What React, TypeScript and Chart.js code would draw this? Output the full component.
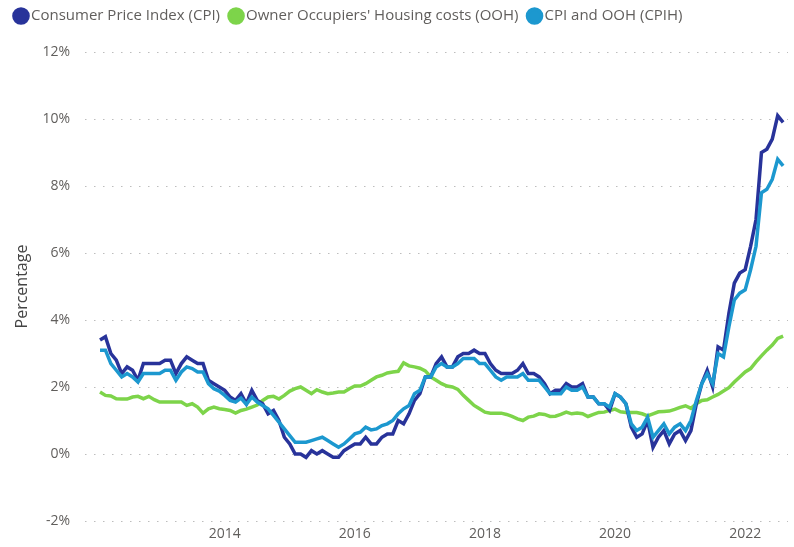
import React, { useEffect, useRef } from "react";
import { Chart, registerables } from "chart.js";

Chart.register(...registerables);

// Monthly series, first value = February 2012, last value = August 2022
const START_YEAR = 2012;
const START_MONTH = 2;

const seriesNames = [
  "Consumer Price Index (CPI)",
  "Owner Occupiers' Housing costs (OOH)",
  "CPI and OOH (CPIH)",
];

const cpi = [
  3.4, 3.5, 3.0, 2.8, 2.4, 2.6, 2.5, 2.2, 2.7, 2.7, 2.7,
  2.7, 2.8, 2.8, 2.4, 2.7, 2.9, 2.8, 2.7, 2.7, 2.2, 2.1, 2.0,
  1.9, 1.7, 1.6, 1.8, 1.5, 1.9, 1.6, 1.5, 1.2, 1.3, 1.0, 0.5,
  0.3, 0.0, 0.0, -0.1, 0.1, 0.0, 0.1, 0.0, -0.1, -0.1, 0.1, 0.2,
  0.3, 0.3, 0.5, 0.3, 0.3, 0.5, 0.6, 0.6, 1.0, 0.9, 1.2, 1.6,
  1.8, 2.3, 2.3, 2.7, 2.9, 2.6, 2.6, 2.9, 3.0, 3.0, 3.1, 3.0,
  3.0, 2.7, 2.5, 2.4, 2.4, 2.4, 2.5, 2.7, 2.4, 2.4, 2.3, 2.1,
  1.8, 1.9, 1.9, 2.1, 2.0, 2.0, 2.1, 1.7, 1.7, 1.5, 1.5, 1.3,
  1.8, 1.7, 1.5, 0.8, 0.5, 0.6, 1.0, 0.2, 0.5, 0.7, 0.3, 0.6,
  0.7, 0.4, 0.7, 1.5, 2.1, 2.5, 2.0, 3.2, 3.1, 4.2, 5.1, 5.4,
  5.5, 6.2, 7.0, 9.0, 9.1, 9.4, 10.1, 9.9,
];

const ooh = [
  1.85, 1.75, 1.73, 1.65, 1.64, 1.64, 1.7, 1.72, 1.65, 1.72, 1.62,
  1.55, 1.55, 1.55, 1.55, 1.55, 1.45, 1.5, 1.4, 1.22, 1.35, 1.4, 1.35,
  1.33, 1.3, 1.22, 1.3, 1.34, 1.4, 1.46, 1.6, 1.7, 1.72, 1.64, 1.75,
  1.88, 1.95, 2.0, 1.9, 1.8, 1.92, 1.85, 1.8, 1.82, 1.85, 1.85, 1.95,
  2.03, 2.03, 2.1, 2.2, 2.3, 2.35, 2.42, 2.45, 2.47, 2.72, 2.63, 2.6,
  2.56, 2.48, 2.3, 2.2, 2.1, 2.03, 2.0, 1.93, 1.75, 1.6, 1.45, 1.35,
  1.25, 1.22, 1.22, 1.22, 1.18, 1.12, 1.05, 1.0, 1.1, 1.13, 1.2, 1.18,
  1.12, 1.13, 1.18, 1.25, 1.2, 1.22, 1.2, 1.12, 1.18, 1.24, 1.25, 1.3,
  1.34, 1.26, 1.24, 1.24, 1.24, 1.2, 1.14, 1.2, 1.26, 1.27, 1.28, 1.33,
  1.39, 1.44, 1.36, 1.5, 1.6, 1.62, 1.7, 1.78, 1.88, 1.98, 2.15, 2.3,
  2.45, 2.55, 2.75, 2.93, 3.1, 3.25, 3.45, 3.52,
];

const cpih = [
  3.1, 3.1, 2.7, 2.5, 2.3, 2.4, 2.3, 2.15, 2.4, 2.4, 2.4,
  2.4, 2.5, 2.5, 2.2, 2.45, 2.6, 2.55, 2.45, 2.45, 2.1, 1.95, 1.88,
  1.75, 1.6, 1.55, 1.67, 1.48, 1.7, 1.55, 1.45, 1.35, 1.15, 0.95, 0.75,
  0.55, 0.35, 0.35, 0.35, 0.4, 0.45, 0.5, 0.4, 0.3, 0.2, 0.3, 0.45,
  0.6, 0.65, 0.8, 0.72, 0.75, 0.85, 0.9, 1.0, 1.2, 1.35, 1.45, 1.8,
  1.9, 2.3, 2.3, 2.6, 2.7, 2.6, 2.6, 2.7, 2.85, 2.85, 2.85, 2.7,
  2.7, 2.5, 2.3, 2.2, 2.3, 2.3, 2.3, 2.4, 2.2, 2.2, 2.2, 2.0,
  1.8, 1.8, 1.8, 2.0, 1.9, 1.9, 2.0, 1.7, 1.7, 1.5, 1.5, 1.4,
  1.8, 1.7, 1.5, 0.9, 0.7, 0.8, 1.1, 0.5, 0.7, 0.9, 0.6, 0.8,
  0.9, 0.7, 1.0, 1.6, 2.1, 2.4, 2.1, 3.0, 2.9, 3.8, 4.6, 4.8,
  4.9, 5.5, 6.2, 7.8, 7.9, 8.2, 8.8, 8.6,
];

const xTickYears = [2014, 2016, 2018, 2020, 2022];
const yMin = -2;
const yMax = 12;
const yStep = 2;

const colors = ["#28339A", "#7DD44A", "#1C98CF"];

const monthIndexOfYear = (year: number) => (year - START_YEAR) * 12 - (START_MONTH - 1);

const FONT = "'Segoe UI', 'Open Sans', sans-serif";

export default function App() {
  const canvasRef = useRef<HTMLCanvasElement | null>(null);

  useEffect(() => {
    if (!canvasRef.current) return;
    const toPoints = (arr: number[]) => arr.map((v, i) => ({ x: i, y: v }));
    const seriesValues = [cpi, ooh, cpih];
    const drawOrder = [1, 2, 0];

    const legendSpace = {
      id: "legendSpace",
      beforeInit(chart: any) {
        const legend = chart.legend;
        if (legend) {
          const origFit = legend.fit;
          legend.fit = function () {
            origFit.call(this);
            this.height = 52;
          };
        }
      },
      afterLayout(chart: any) {
        if (chart.legend) {
          chart.legend.top -= 5;
        }
      },
    };

    const tickValues = xTickYears.map(monthIndexOfYear);

    const chart = new Chart(canvasRef.current, {
      type: "line",
      data: {
        datasets: seriesValues.map((vals, k) => ({
          label: seriesNames[k],
          data: toPoints(vals),
          borderColor: colors[k],
          backgroundColor: colors[k],
          borderWidth: 3.5,
          pointRadius: 0,
          pointHoverRadius: 0,
          tension: 0,
          order: drawOrder[k],
        })),
      },
      options: {
        animation: false,
        responsive: true,
        maintainAspectRatio: false,
        layout: { padding: { left: 5, right: 6, top: 0, bottom: 0 } },
        plugins: {
          tooltip: { enabled: false },
          legend: {
            display: true,
            position: "top",
            align: "start",
            labels: {
              usePointStyle: true,
              pointStyle: "circle",
              boxWidth: 5,
              boxHeight: 10,
              padding: 13.5,
              color: "#605E5C",
              font: { family: FONT, size: 15 },
              sort: (a: any, b: any) => a.datasetIndex - b.datasetIndex,
            },
          },
        },
        scales: {
          x: {
            type: "linear",
            min: -2.77,
            max: 126.9,
            afterBuildTicks: (scale: any) => {
              scale.ticks = tickValues.map((v) => ({ value: v }));
            },
            afterFit: (scale: any) => {
              scale.height = 26;
            },
            ticks: {
              autoSkip: false,
              maxRotation: 0,
              padding: 5,
              color: "#605E5C",
              font: { family: FONT, size: 14 },
              callback: (value: any) => {
                const idx = tickValues.indexOf(Number(value));
                return idx >= 0 ? String(xTickYears[idx]) : "";
              },
            },
            grid: { display: false, drawTicks: false },
            border: { display: false },
          },
          y: {
            type: "linear",
            min: yMin,
            max: yMax,
            afterFit: (scale: any) => {
              scale.width = 80;
            },
            ticks: {
              stepSize: yStep,
              padding: 15,
              color: "#605E5C",
              font: { family: FONT, size: 14 },
              callback: (value: any) => `${value}%`,
            },
            title: {
              display: true,
              text: "Percentage",
              color: "#444",
              font: { family: FONT, size: 16 },
              padding: { top: 8, bottom: 0 },
            },
            grid: {
              color: "#BDBDBD",
              lineWidth: 1,
              drawTicks: false,
              borderDash: [1.5, 7.5],
            } as any,
            border: { display: false, dash: [1.5, 7.5] },
          },
        },
      },
      plugins: [legendSpace],
    });
    return () => chart.destroy();
  }, []);

  return (
    <div style={{ position: "fixed", left: 0, top: 0, width: 794, height: 547, background: "#fff" }}>
      <canvas ref={canvasRef} />
    </div>
  );
}
